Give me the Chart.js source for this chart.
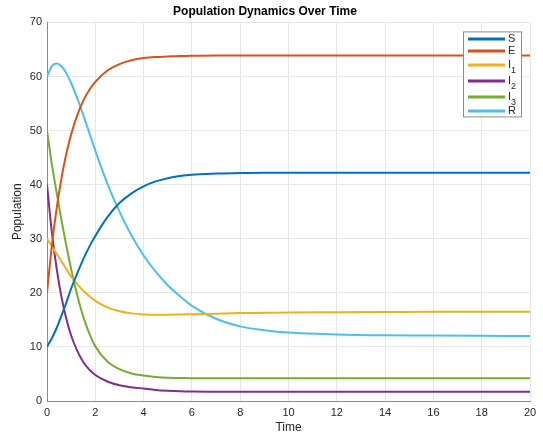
<!DOCTYPE html>
<html>
<head>
<meta charset="utf-8">
<script src="https://cdn.jsdelivr.net/npm/chart.js@4.4.0/dist/chart.umd.min.js"></script>
<style>
  html, body { margin: 0; padding: 0; background: #fff; }
</style>
</head>
<body>
<canvas id="chart" width="543" height="438"></canvas>
<script>
// time samples (x) and the six compartments
const times = [0, 0.2, 0.4, 0.6, 0.8, 1, 1.25, 1.5, 1.75, 2, 2.5, 3, 3.5, 4, 4.5, 5, 5.5, 6, 7, 8, 9, 10, 12, 14, 16, 18, 20];
const S  = [10, 11.6, 13.5, 15.8, 18.2, 20.8, 23.6, 26.2, 28.5, 30.5, 34, 36.6, 38.4, 39.7, 40.6, 41.2, 41.6, 41.85, 42.05, 42.15, 42.2, 42.2, 42.2, 42.2, 42.2, 42.2, 42.2];
const E  = [20, 28.7, 35.6, 41.2, 45.7, 49.3, 52.8, 55.5, 57.5, 59.0, 61.1, 62.3, 63.0, 63.4, 63.6, 63.7, 63.8, 63.85, 63.9, 63.9, 63.9, 63.9, 63.9, 63.9, 63.9, 63.9, 63.9];
const I1 = [30, 28.6, 27.2, 25.8, 24.4, 23.0, 21.6, 20.4, 19.4, 18.5, 17.3, 16.6, 16.2, 16.0, 15.95, 15.95, 16.0, 16.05, 16.15, 16.25, 16.3, 16.35, 16.4, 16.45, 16.5, 16.5, 16.5];
const I2 = [40, 31.2, 24.5, 19.2, 15.2, 12.1, 9.3, 7.2, 5.8, 4.8, 3.6, 2.9, 2.55, 2.3, 2.05, 1.9, 1.8, 1.75, 1.72, 1.7, 1.7, 1.7, 1.7, 1.7, 1.7, 1.7, 1.7];
const I3 = [50, 43.8, 38.5, 33.4, 28.7, 24.4, 19.6, 15.6, 12.5, 10.1, 7.3, 5.9, 5.1, 4.7, 4.45, 4.3, 4.25, 4.2, 4.2, 4.2, 4.2, 4.2, 4.2, 4.2, 4.2, 4.2, 4.2];
const R  = [60, 61.9, 62.4, 61.9, 60.6, 58.8, 56.0, 52.9, 49.6, 46.3, 40.2, 35.0, 30.6, 26.9, 23.9, 21.4, 19.4, 17.6, 15.2, 13.8, 13.1, 12.65, 12.3, 12.15, 12.1, 12.05, 12.0];

const seriesNames  = ['S', 'E', 'I_1', 'I_2', 'I_3', 'R'];
const seriesValues = [S, E, I1, I2, I3, R];
const seriesColors = ['#0072BD', '#D95319', '#EDB120', '#7E2F8E', '#77AC30', '#4DBEEE'];

const FONT = '"Liberation Sans", Arial, Helvetica, sans-serif';
const TEXT = '#262626';

const datasets = seriesNames.map((name, i) => ({
  label: name,
  data: times.map((t, j) => ({ x: t, y: seriesValues[i][j] })),
  borderColor: seriesColors[i],
  backgroundColor: seriesColors[i],
  borderWidth: 2,
  pointRadius: 0,
  cubicInterpolationMode: 'monotone',
  fill: false
}));

// MATLAB-style legend box inside the axes, with subscript labels
const legendBox = {
  id: 'legendBox',
  afterDatasetsDraw(chart) {
    const { ctx, chartArea } = chart;
    const x0 = chartArea.right - 67, y0 = chartArea.top + 9, w = 58, h = 85;
    ctx.save();
    ctx.fillStyle = '#fff';
    ctx.fillRect(x0, y0, w, h);
    ctx.strokeStyle = '#8c8c8c';
    ctx.lineWidth = 1;
    ctx.strokeRect(x0 + 0.5, y0 + 0.5, w, h);
    let y = y0 + 7.5;
    chart.data.datasets.forEach((ds, i) => {
      const [main, sub] = ds.label.split('_');
      if (i > 0) y += 12 + (sub ? 2 : 0) + (chart.data.datasets[i - 1].label.includes('_') ? 2 : 0);
      ctx.strokeStyle = ds.borderColor;
      ctx.lineWidth = 3;
      ctx.beginPath();
      ctx.moveTo(x0 + 5, y);
      ctx.lineTo(x0 + 42, y);
      ctx.stroke();
      ctx.fillStyle = TEXT;
      ctx.textBaseline = 'middle';
      ctx.font = '11px ' + FONT;
      ctx.fillText(main, x0 + 45, y);
      if (sub) {
        const mw = ctx.measureText(main).width;
        ctx.font = '9px ' + FONT;
        ctx.fillText(sub, x0 + 45 + mw, y + 6);
      }
    });
    ctx.restore();
  }
};

new Chart(document.getElementById('chart'), {
  type: 'line',
  data: { datasets },
  plugins: [legendBox],
  options: {
    responsive: false,
    devicePixelRatio: 1,
    animation: false,
    layout: { padding: { left: 0, right: 13, top: 0, bottom: 0 } },
    plugins: {
      legend: { display: false },
      tooltip: { enabled: false },
      title: {
        display: true,
        text: 'Population Dynamics Over Time',
        color: '#000',
        font: { family: FONT, size: 12, weight: 'bold' },
        padding: { top: 4, bottom: 4 }
      }
    },
    scales: {
      x: {
        type: 'linear',
        min: 0, max: 20,
        ticks: { stepSize: 2, color: TEXT, font: { family: FONT, size: 11 }, padding: 5, maxRotation: 0 },
        grid: { color: '#e6e6e6', drawTicks: false },
        border: { color: '#8c8c8c' },
        title: { display: true, text: 'Time', color: TEXT, font: { family: FONT, size: 12 }, padding: { top: 2, bottom: 3 } },
        afterFit: s => { s.height = 37; }
      },
      y: {
        min: 0, max: 70,
        ticks: { stepSize: 10, color: TEXT, font: { family: FONT, size: 11 }, padding: 5 },
        grid: { color: '#e6e6e6', drawTicks: false },
        border: { color: '#8c8c8c' },
        title: { display: true, text: 'Population', color: TEXT, font: { family: FONT, size: 12 }, padding: { top: 10, bottom: 0 } },
        afterFit: s => { s.width = 47; }
      }
    }
  }
});
</script>
</body>
</html>
